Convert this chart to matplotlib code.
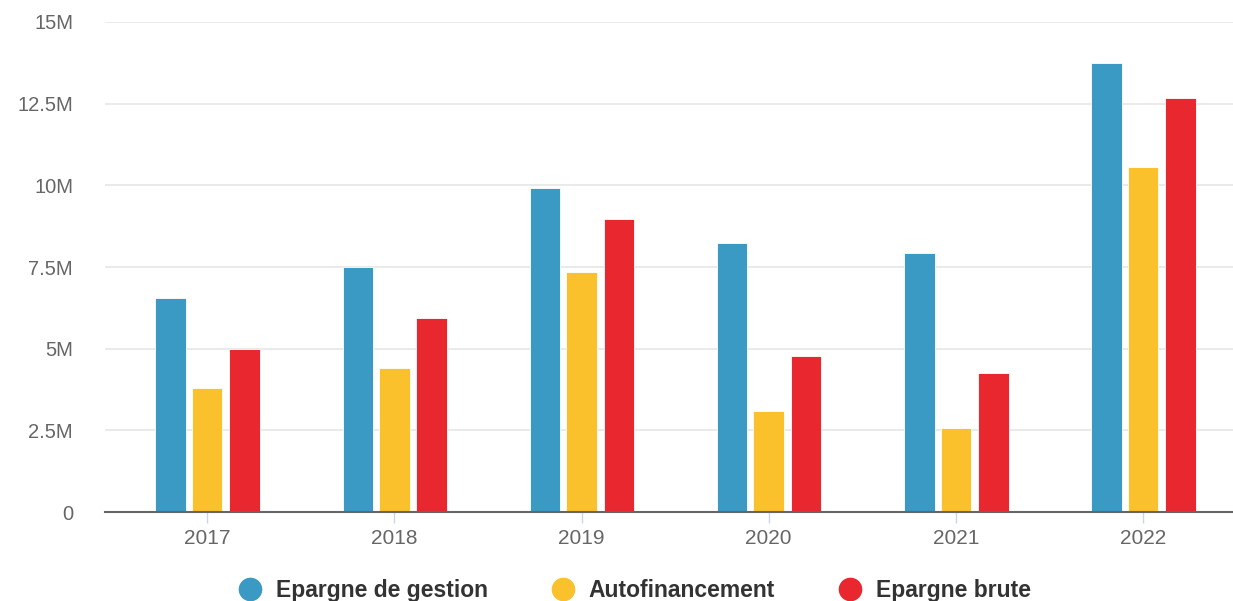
import matplotlib
matplotlib.use('Agg')
import matplotlib.pyplot as plt
from matplotlib.lines import Line2D
from matplotlib.ticker import FuncFormatter, MultipleLocator
import numpy as np

years = ['2017', '2018', '2019', '2020', '2021', '2022']
epargne_gestion = [6.55, 7.5, 9.92, 8.23, 7.93, 13.74]
autofinancement = [3.8, 4.41, 7.35, 3.09, 2.57, 10.56]
epargne_brute = [4.99, 5.94, 8.97, 4.78, 4.25, 12.67]

series = [
    ('Epargne de gestion', epargne_gestion, '#3a9ac4'),
    ('Autofinancement', autofinancement, '#fbc12d'),
    ('Epargne brute', epargne_brute, '#e8272e'),
]

plt.rcParams['font.family'] = ['Liberation Sans', 'DejaVu Sans']

fig = plt.figure(figsize=(12.33, 6.01), dpi=100)
ax = fig.add_axes([0.0852, 0.148, 0.9148, 0.8154])

x = np.arange(len(years))
offsets = [-0.195, 0.0, 0.2]
width = 0.163
for (name, vals, col), off in zip(series, offsets):
    ax.bar(x + off, vals, width, color=col, edgecolor='white', linewidth=0.6,
           zorder=3, label=name)

ax.set_ylim(0, 15)
ax.set_xlim(-0.545, 5.48)
ax.yaxis.set_major_locator(MultipleLocator(2.5))
ax.yaxis.set_major_formatter(FuncFormatter(lambda v, p: '0' if v == 0 else '{:g}M'.format(v)))
ax.grid(axis='y', color='#e6e6e6', linewidth=1.2, zorder=0)
ax.set_axisbelow(True)

for side in ['top', 'right', 'left']:
    ax.spines[side].set_visible(False)
ax.spines['bottom'].set_color('#666666')
ax.spines['bottom'].set_linewidth(1.5)
ax.spines['bottom'].set_zorder(4)

ax.set_xticks(x)
ax.set_xticklabels(years)
ax.tick_params(axis='x', colors='#ccd6eb', length=8, width=1, pad=4,
               labelsize=15, labelcolor='#666666')
ax.tick_params(axis='y', length=0, pad=23, labelsize=14.5, labelcolor='#666666')

handles = [Line2D([], [], marker='o', linestyle='', markersize=16,
                  markerfacecolor=col, markeredgecolor=col, label=name)
           for name, vals, col in series]
fig.legend(handles=handles, loc='center', bbox_to_anchor=(0.513, 0.018),
           ncol=3, frameon=False, handletextpad=0.4, columnspacing=2.6,
           handlelength=1.4, prop={'weight': 'bold', 'size': 16.5},
           labelcolor='#333333')

fig.savefig('out.png', dpi=100)
